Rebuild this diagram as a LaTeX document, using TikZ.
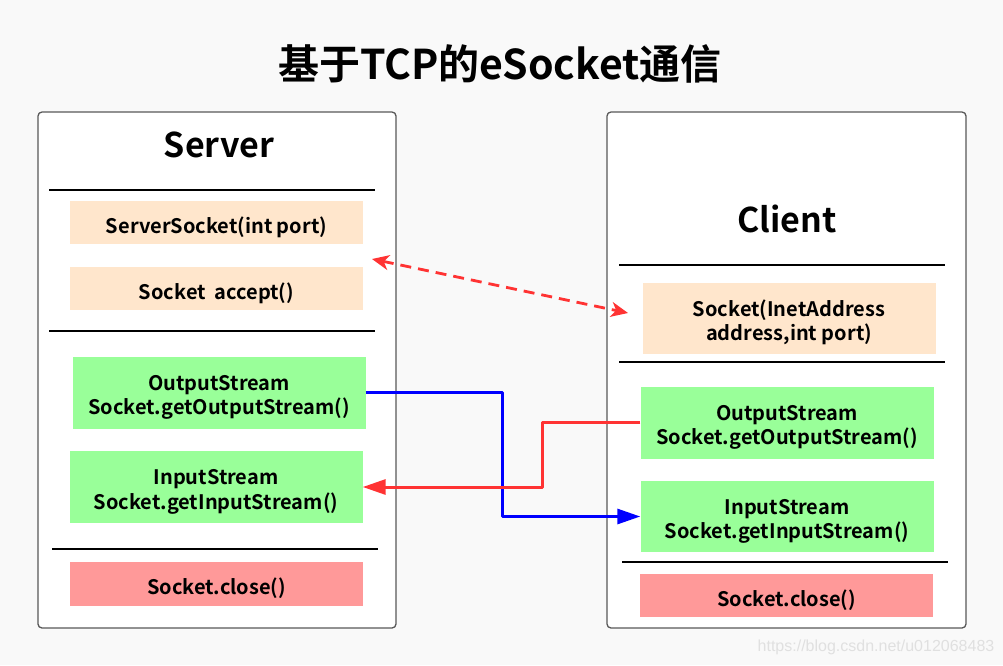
\documentclass[tikz,border=0pt]{standalone}
\usepackage{fontspec}
\setmainfont{Noto Sans CJK SC}[BoldFont=* Bold]
\newfontfamily\wmfont{Liberation Sans}
\usetikzlibrary{arrows.meta}
\definecolor{bgcol}{HTML}{F9F9F9}
\definecolor{peach}{HTML}{FFE6CC}
\definecolor{mint}{HTML}{99FF99}
\definecolor{rose}{HTML}{FF9999}
\definecolor{linkred}{HTML}{FF3333}
\begin{document}
\begin{tikzpicture}[x=1pt,y=-1pt,line join=round,font=\bfseries,
	frame/.style={draw=black!65,line width=1.3pt,fill=white,rounded corners=4pt},
	sepline/.style={line width=2.8pt},
	op/.style={minimum width=293pt,inner sep=0pt,align=center,font=\bfseries\fontsize{20}{24.3}\selectfont},
	oneline/.style={text height=22pt,text depth=0.4pt},
	twoline/.style={text height=44.4pt,text depth=0pt},
	flow/.style={line width=3pt,-{Triangle[length=23pt,width=15pt]}},
	handshake/.style={linkred,line width=2.8pt,dash pattern=on 11pt off 7pt,{Stealth[length=17pt,width=15pt,inset=5pt]}-{Stealth[length=17pt,width=15pt,inset=5pt]}}]
	\fill[bgcol] (0,0) rectangle (1003,665);
	\useasboundingbox (0,0) rectangle (1003,665);
	\node[font=\bfseries\fontsize{41}{47}\selectfont] (title) at (500,64) {基于TCP的eSocket通信};
	% the two sides
	\draw[frame] (38,112) rectangle (396,628);
	\draw[frame] (607,112) rectangle (966,628);
	\node[font=\bfseries\fontsize{34}{40}\selectfont] (server) at (219,145) {Server};
	\node[font=\bfseries\fontsize{34}{40}\selectfont] (client) at (787,219) {Client};
	\draw[sepline] (49,190) -- (375,190);
	\draw[sepline] (49,331) -- (375,331);
	\draw[sepline] (52,549) -- (378,549);
	\draw[sepline] (619,265) -- (945,265);
	\draw[sepline] (619,362) -- (945,362);
	\draw[sepline] (622,562) -- (948,562);
	% server side
	\node[op,oneline,fill=peach,minimum height=43pt] (ssock) at (216.5,222.5) {ServerSocket(int port)};
	\node[op,oneline,fill=peach,minimum height=43pt] (accept) at (216.5,288.5) {Socket\ \ accept()};
	\node[op,twoline,fill=mint,minimum height=72pt] (sout) at (219,392.5) {OutputStream\\Socket.getOutputStream()};
	\node[op,twoline,fill=mint,minimum height=72pt] (sin) at (216,487) {InputStream\\Socket.getInputStream()};
	\node[op,oneline,fill=rose,minimum height=44pt] (sclose) at (216.5,584) {Socket.close()};
	% client side
	\node[op,twoline,fill=peach,minimum height=71pt] (csock) at (789,318.7) {Socket(InetAddress\\address,int port)};
	\node[op,twoline,fill=mint,minimum height=72pt] (cout) at (787,422.5) {OutputStream\\Socket.getOutputStream()};
	\node[op,twoline,fill=mint,minimum height=71pt] (cin) at (787,516.5) {InputStream\\Socket.getInputStream()};
	\node[op,oneline,fill=rose,minimum height=43pt] (cclose) at (786.5,595.5) {Socket.close()};
	% connections
	\coordinate (dl) at (372,259);
	\coordinate (dr) at (628,313);
	\draw[handshake] (dl) -- (dr);
	\coordinate (bmid) at (502,450);
	\coordinate (rmid) at (542,450);
	\draw[flow,blue] (sout.east) -| (bmid) |- (cin.west);
	\draw[flow,linkred] (cout.west) -| (rmid) |- (sin.east);
	\node[font=\wmfont\fontsize{16}{18}\selectfont,text=black!12] (mark) at (876,647) {https://blog.csdn.net/u012068483};
\end{tikzpicture}
\end{document}
